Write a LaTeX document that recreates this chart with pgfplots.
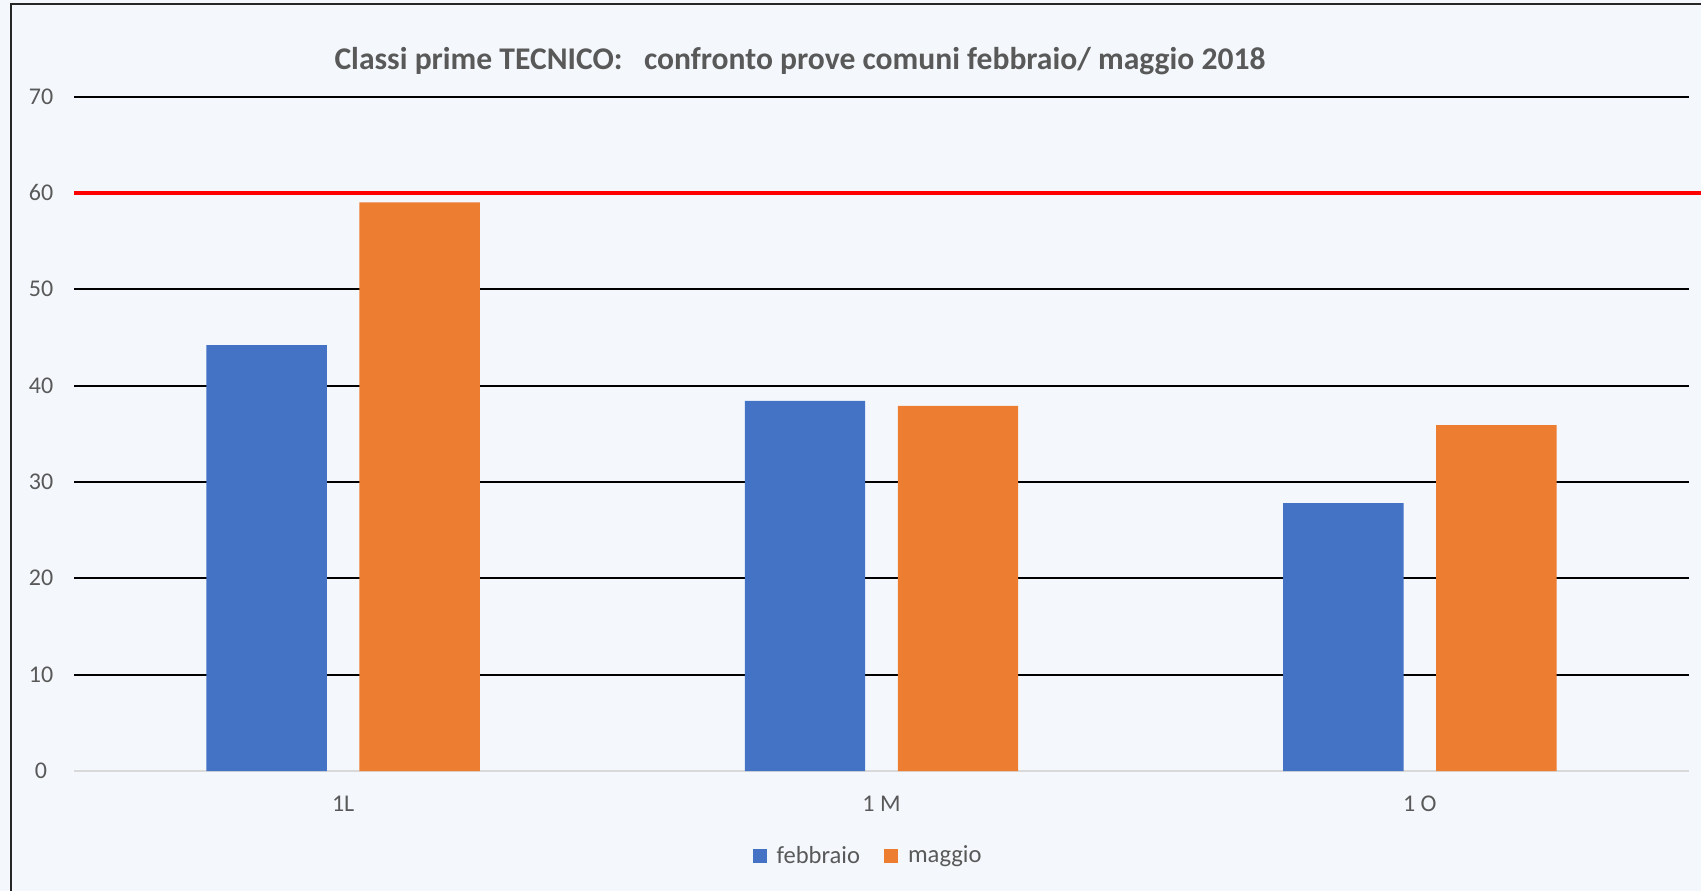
\documentclass[border=0pt]{standalone}
\usepackage{pgfplots}
\pgfplotsset{compat=1.18}
\usepackage{fontspec}
\setmainfont{Carlito}
\definecolor{bg}{HTML}{F4F8FD}
\definecolor{febb}{HTML}{4472C4}
\definecolor{magg}{HTML}{ED7D31}
\definecolor{txt}{HTML}{595959}
\begin{document}
\begin{tikzpicture}
% 1 px of the reference = 0.5pt
\fill[bg] (0,0) rectangle (850.5pt,445.5pt);
\useasboundingbox (0,0) rectangle (850.5pt,445.5pt);
\draw[black!85, line width=1pt] (5.5pt,0pt) -- (5.5pt,443.5pt) -- (850.5pt,443.5pt);
\node[text=txt, font=\fontsize{15.8}{18}\selectfont\bfseries] at (400pt,415pt)
  {Classi prime TECNICO:\ \ \ confronto prove comuni febbraio/ maggio 2018};
\begin{axis}[
  at={(37pt,60pt)}, anchor=south west,
  scale only axis,
  width=807.5pt, height=337.25pt,
  xmin=-0.5, xmax=2.5,
  ymin=0, ymax=70,
  clip=false,
  axis line style={draw=none},
  major tick length=0pt,
  xtick={0,1,2},
  xticklabels={1L, 1 M, 1 O},
  ytick={10,20,...,70},
  extra y ticks={0},
  extra y tick style={major grid style={draw=black!15, line width=0.8pt}},
  ymajorgrids,
  major grid style={draw=black, line width=1pt},
  tick label style={text=txt, font=\fontsize{12}{14}\selectfont},
  /pgf/number format/assume math mode=true,
  xticklabel style={anchor=center, yshift=-16.5pt},
  yticklabel style={anchor=center, xshift=-16.5pt},
  ybar=16.3pt,
  bar width=60.2pt,
  legend columns=2,
  legend style={at={(0.4923,-0.126)}, anchor=center, draw=none, fill=none,
    font=\fontsize{12.3}{14}\selectfont, text=txt,
    /tikz/every odd column/.append style={column sep=3pt},
    /tikz/every even column/.append style={column sep=10pt}},
  legend image code/.code={\fill[#1] (0pt,-3.5pt) rectangle (7pt,3.5pt);},
]
\addplot[fill=febb, draw=none] coordinates {(0,44.2) (1,38.4) (2,27.8)};
\addplot[fill=magg, draw=none] coordinates {(0,59.0) (1,37.9) (2,35.9)};
\legend{febbraio, maggio}
\addplot[sharp plot, red, line width=2pt, forget plot] coordinates {(-0.5,60) (2.523,60)};
\end{axis}
\end{tikzpicture}
\end{document}
